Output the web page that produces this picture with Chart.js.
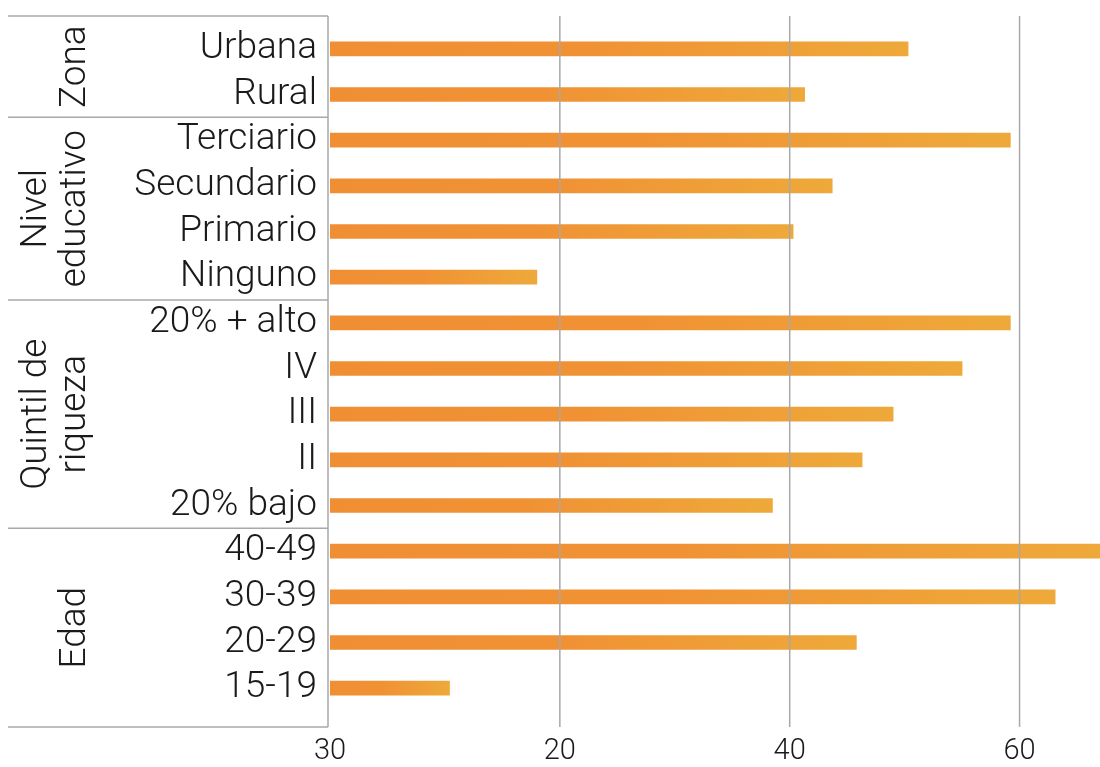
<!DOCTYPE html>
<html><head><meta charset="utf-8">
<script src="https://cdn.jsdelivr.net/npm/chart.js@4"></script>
<style>html,body{margin:0;padding:0;background:#fff}</style>
</head><body>
<canvas id="c" width="1100" height="767"></canvas>
<script>
const categories = ["Urbana","Rural","Terciario","Secundario","Primario","Ninguno","20% + alto","IV","III","II","20% bajo","40-49","30-39","20-29","15-19"];
const values = [50.3,41.3,59.2,43.7,40.3,18.0,59.2,55.0,49.0,46.3,38.5,67,63.1,45.8,10.4];
const groupNames = [["Zona"],["Nivel","educativo"],["Quintil de","riqueza"],["Edad"]];
const groupSizes = [2,4,5,4];
const tickValues = [0,20,40,60];
const tickLabels = ["30","20","40","60"];

const FONT = 'Roboto';
const LINE = '#A8A8A8';

const framePlugin = {
  id: 'frame',
  afterDatasetsDraw(chart) {
    const {ctx, chartArea: a, scales: {x, y}} = chart;
    const top = a.top - 10, bottom = a.bottom + 16;
    ctx.save();
    ctx.strokeStyle = LINE; ctx.lineWidth = 1.5;
    tickValues.slice(1).forEach(v => {
      const px = x.getPixelForValue(v);
      ctx.beginPath(); ctx.moveTo(px, top); ctx.lineTo(px, bottom); ctx.stroke();
    });
    const fx = a.left - 2;
    ctx.beginPath(); ctx.moveTo(fx, top); ctx.lineTo(fx, bottom); ctx.stroke();
    const seps = [top];
    let idx = 0;
    groupSizes.forEach((n) => {
      idx += n;
      if (idx < categories.length) {
        seps.push((y.getPixelForValue(idx - 1) + y.getPixelForValue(idx)) / 2);
      }
    });
    seps.push(bottom);
    seps.forEach(sy => { ctx.beginPath(); ctx.moveTo(8, sy); ctx.lineTo(fx, sy); ctx.stroke(); });
    ctx.fillStyle = '#1a1a1a';
    ctx.font = '300 37px ' + FONT;
    ctx.textAlign = 'center'; ctx.textBaseline = 'middle';
    groupNames.forEach((lines, gi) => {
      const cy = (seps[gi] + seps[gi + 1]) / 2;
      const n = lines.length;
      lines.forEach((t, i) => {
        const cx = 76 - (n - 1 - i) * 39;
        ctx.save(); ctx.translate(cx, cy); ctx.rotate(-Math.PI / 2);
        ctx.fillText(t, 0, 0); ctx.restore();
      });
    });
    ctx.restore();
  }
};

new Chart(document.getElementById('c'), {
  type: 'bar',
  data: {
    labels: categories,
    datasets: [{
      data: values,
      barThickness: 14,
      backgroundColor: (c) => {
        const ch = c.chart;
        if (!ch.chartArea || !ch.scales.x || c.dataIndex === undefined) return '#F0903A';
        const x0 = ch.scales.x.getPixelForValue(0);
        const x1 = ch.scales.x.getPixelForValue(values[c.dataIndex]);
        const g = ch.ctx.createLinearGradient(x0, 0, x1, 0);
        g.addColorStop(0, 'rgb(240,142,52)');
        g.addColorStop(0.45, 'rgb(240,146,52)');
        g.addColorStop(1, 'rgb(238,169,58)');
        return g;
      }
    }]
  },
  options: {
    responsive: false, animation: false, indexAxis: 'y', devicePixelRatio: 1,
    layout: {padding: {top: 26, right: 0, left: 0, bottom: 0}},
    plugins: {legend: {display: false}, tooltip: {enabled: false}},
    scales: {
      x: {
        type: 'linear', min: 0, max: 67,
        afterBuildTicks: s => { s.ticks = tickValues.map(v => ({value: v})); },
        ticks: {
          callback: (v) => tickLabels[tickValues.indexOf(v)],
          font: {family: FONT, size: 29, weight: 300}, color: '#1a1a1a',
          padding: 23, maxRotation: 0, autoSkip: false
        },
        grid: {display: false, drawTicks: false}, border: {display: false},
        afterFit: s => { s.height = 56; s.paddingLeft = 0; s.paddingRight = 0; }
      },
      y: {
        ticks: {font: {family: FONT, size: 37, weight: 300}, color: '#1a1a1a', padding: 13, autoSkip: false},
        grid: {display: false, drawTicks: false}, border: {display: false},
        afterFit: s => { s.width = 330; s.paddingTop = 0; s.paddingBottom = 0; }
      }
    }
  },
  plugins: [framePlugin]
});
</script>
</body></html>
